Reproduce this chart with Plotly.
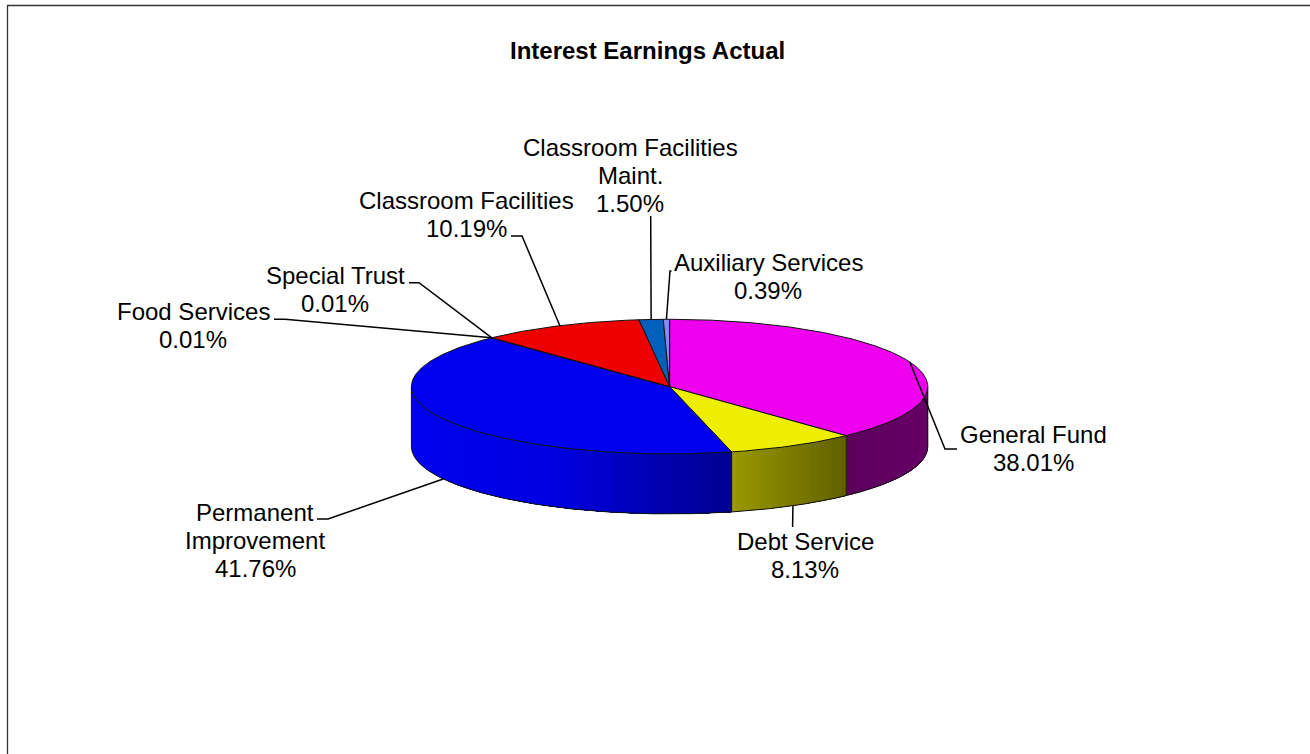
import math
import plotly.graph_objects as go

categories = ["General Fund", "Debt Service", "Permanent Improvement", "Food Services",
              "Special Trust", "Classroom Facilities", "Classroom Facilities Maint.", "Auxiliary Services"]
values = [38.01, 8.13, 41.76, 0.01, 0.01, 10.19, 1.50, 0.39]
top_colors = ["#EE00EE", "#EEEE00", "#0000EE", "#00AA00", "#EE8800", "#EE0000", "#0060BB", "#8888EE"]
label_lines = [["General Fund", "38.01%"], ["Debt Service", "8.13%"], ["Permanent", "Improvement", "41.76%"],
               ["Food Services", "0.01%"], ["Special Trust", "0.01%"], ["Classroom Facilities", "10.19%"],
               ["Classroom Facilities", "Maint.", "1.50%"], ["Auxiliary Services", "0.39%"]]
label_pos = [(1033, 448.7), (805, 555), (255, 540), (193, 325.5), (335, 289), (466, 214.5), (630, 175), (768, 276.5)]
LINE_GAP = 28
# Leader elbow points, outer end first then the bend
leader_elbows = [[(957, 449), (945, 449)], [(792.6, 527)], [(317, 519), (328, 519)],
                 [(274, 319.3), (285, 319.3)], [(409, 282.7), (419, 282.7)], [(511, 236), (522, 236)],
                 [(650.7, 216)], [(671.5, 271), (670, 271)]]
# Side-wall shading, stops run left to right across each slice
wall_grad = {0: [(0.0, (0x5C, 0, 0x5C)), (1.0, (0x66, 0, 0x66))],
             1: [(0.0, (0x99, 0x99, 0)), (1.0, (0x60, 0x60, 0))],
             2: [(0.0, (0, 0, 0xEE)), (0.45, (0, 0, 0xE0)), (1.0, (0, 0, 0x90))]}

CX, CY, RX, RY, DEPTH = 669.6, 386.6, 258.2, 67.3, 60
OUTLINE = "#111111"
STRIP_PX = 5.0


def pt(deg, dy=0.0):
    r = math.radians(deg)
    return CX + RX * math.sin(r), CY - RY * math.cos(r) + dy


def front_angle(x):
    return 180.0 - math.degrees(math.asin(max(-1.0, min(1.0, (x - CX) / RX))))


def arc(a, b, dy=0.0, step=0.5):
    n = max(2, int(abs(b - a) / step) + 1)
    return [pt(a + (b - a) * i / (n - 1), dy) for i in range(n)]


def poly(points, fill, line=None, width=1.0):
    return go.Scatter(x=[p[0] for p in points], y=[p[1] for p in points], mode="lines",
                      fill="toself", fillcolor=fill, hoverinfo="skip",
                      line=dict(color=line or fill, width=width if line else 0))


def stroke(points, color=OUTLINE, width=1.0):
    return go.Scatter(x=[p[0] for p in points], y=[p[1] for p in points], mode="lines",
                      hoverinfo="skip", line=dict(color=color, width=width))


def mix(stops, t):
    for (t0, c0), (t1, c1) in zip(stops, stops[1:]):
        if t <= t1:
            f = (t - t0) / (t1 - t0)
            return "rgb(%d,%d,%d)" % tuple(round(u + (v - u) * f) for u, v in zip(c0, c1))
    return "rgb(%d,%d,%d)" % stops[-1][1]


bounds = [0.0]
for v in values:
    bounds.append(bounds[-1] + v * 3.6 * 100 / sum(values))

fig = go.Figure()

# Side wall: strips of equal screen width, painted left to right, each one overlapping the next
for i, stops in wall_grad.items():
    a, b = max(bounds[i], 90.0), min(bounds[i + 1], 270.0)
    xa, xb = pt(b)[0], pt(a)[0]
    n = max(1, round((xb - xa) / STRIP_PX))
    for k in range(n):
        x0 = xa + (xb - xa) * k / n
        s_left = b if k == 0 else front_angle(x0)
        t = (k + 0.5) / n
        top = arc(a, s_left, 0)
        bot = arc(s_left, a, DEPTH)
        fig.add_trace(poly(top + bot + [top[0]], mix(stops, t)))

# Wall outlines
fig.add_trace(stroke(arc(90, 270, DEPTH)))
for ang in [90.0, bounds[1], bounds[2], 270.0]:
    fig.add_trace(stroke([pt(ang), pt(ang, DEPTH)]))

# Top face
for i, col in enumerate(top_colors):
    pts = [(CX, CY)] + arc(bounds[i], bounds[i + 1]) + [(CX, CY)]
    fig.add_trace(poly(pts, col, OUTLINE, 1.0))

# Leader lines: start on the slice's mid-angle
for i, elbows in enumerate(leader_elbows):
    mid = (bounds[i] + bounds[i + 1]) / 2
    start = pt(mid, DEPTH if 100 < mid < 260 else 0)
    fig.add_trace(stroke(elbows + [start], "#000000", 1.5))

annotations = []
for lines, (x, y) in zip(label_lines, label_pos):
    for j, line in enumerate(lines):
        annotations.append(dict(x=x, y=y + (j - (len(lines) - 1) / 2) * LINE_GAP, text=line, xref="x", yref="y",
                                showarrow=False, xanchor="center", yanchor="middle",
                                font=dict(family="Liberation Sans", size=24, color="#000000")))
annotations.append(dict(x=647.5, y=50, text="<b>Interest Earnings Actual</b>", xref="x", yref="y",
                        showarrow=False, xanchor="center", yanchor="middle",
                        font=dict(family="Liberation Sans", size=24, color="#000000")))

fig.update_layout(
    width=1310, height=754, margin=dict(l=0, r=0, t=0, b=0), showlegend=False,
    paper_bgcolor="#FFFFFF", plot_bgcolor="#FFFFFF",
    xaxis=dict(range=[0, 1310], visible=False, fixedrange=True),
    yaxis=dict(range=[754, 0], visible=False, fixedrange=True),
    annotations=annotations,
    shapes=[dict(type="line", xref="x", yref="y", x0=7.5, x1=7.5, y0=5.5, y1=754, line=dict(color="#333333", width=1.3)),
            dict(type="line", xref="x", yref="y", x0=7, x1=1310, y0=5.5, y1=5.5, line=dict(color="#333333", width=1.3))],
)

fig.write_html("out.html", config={"displayModeBar": False},
               post_script="document.body.style.margin='0';document.documentElement.style.overflow='hidden';")
